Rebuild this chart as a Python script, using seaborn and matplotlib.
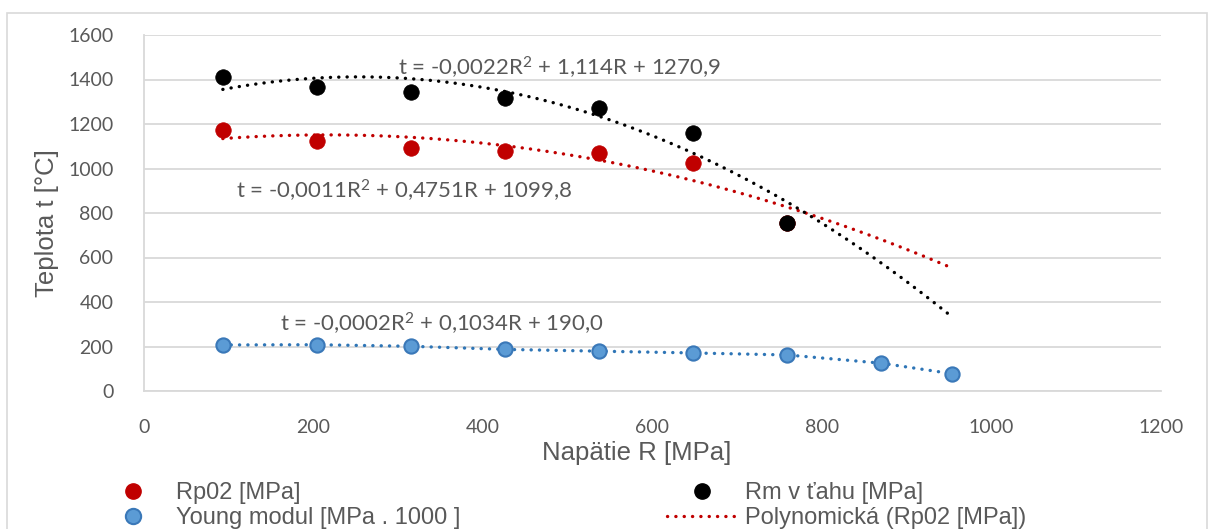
import numpy as np
import pandas as pd
import matplotlib
matplotlib.use("Agg")
import matplotlib.pyplot as plt
from matplotlib.lines import Line2D
from matplotlib.patches import Rectangle
import seaborn as sns

# Measured values
napatie_rp = [93, 204, 315, 426, 537, 648, 759]
rp02 = [1175, 1124, 1094, 1077, 1068, 1026, 757]

napatie_rm = [93, 204, 315, 426, 537, 648, 759]
rm_tah = [1409, 1365, 1343, 1317, 1274, 1160, 756]

napatie_e = [93, 204, 315, 426, 537, 648, 759, 870, 953]
young = [207, 208, 201, 187, 179, 171, 162, 125, 78]

# Quadratic trend coefficients (a, b, c) for t = aR^2 + bR + c
trend_rp02 = [-0.0011, 0.4751, 1099.8]
trend_rm = [-0.0022, 1.114, 1270.9]
trend_young = [-0.0002, 0.1034, 190.0]
trend_range = [93, 953]

eq_labels = [
    "t = -0,0022R$^{2}$ + 1,114R + 1270,9",
    "t = -0,0011R$^{2}$ + 0,4751R + 1099,8",
    "t = -0,0002R$^{2}$ + 0,1034R + 190,0",
]

x_ticks = [0, 200, 400, 600, 800, 1000, 1200]
y_ticks = [0, 200, 400, 600, 800, 1000, 1200, 1400, 1600]

RED = "#c00000"
BLACK = "#000000"
BLUE_FILL = "#5b9bd5"
BLUE_EDGE = "#3a78b8"
BLUE_LINE = "#2e75b6"
GRID = "#d9d9d9"
TXT = "#595959"

sns.set_theme(style="white")
plt.rcParams["font.family"] = ["Lato", "DejaVu Sans"]
plt.rcParams["mathtext.fontset"] = "custom"
plt.rcParams["mathtext.rm"] = "Lato"
plt.rcParams["mathtext.it"] = "Lato"
plt.rcParams["mathtext.bf"] = "Lato:bold"

W, H = 1216, 529
fig = plt.figure(figsize=(W / 100, H / 100), dpi=100)
ax = fig.add_axes([144 / W, 1 - 391 / H, (1161 - 144) / W, (391 - 35) / H])

# outer chart frame
fig.patches.append(Rectangle((7 / W, -0.2), (1207 - 7) / W, 1.2 - 13 / H,
                             transform=fig.transFigure, fill=False,
                             edgecolor=GRID, linewidth=1.2, zorder=0))

LW = 2.4
dot = (0, (0.05, 2.45))

def trend_frame(coef):
    xs = np.linspace(trend_range[0], trend_range[1], 300)
    return pd.DataFrame({"x": xs, "y": np.polyval(coef, xs)})

# trend curves
sns.lineplot(data=trend_frame(trend_rp02), x="x", y="y", ax=ax, color=RED,
             linewidth=LW, linestyle=dot, dash_capstyle="round", zorder=3)
sns.lineplot(data=trend_frame(trend_rm), x="x", y="y", ax=ax, color=BLACK,
             linewidth=LW, linestyle=dot, dash_capstyle="round", zorder=3)

# Young modulus series joined by a dotted line
df_e = pd.DataFrame({"x": napatie_e, "y": young})
sns.lineplot(data=df_e, x="x", y="y", ax=ax, color=BLUE_LINE, linewidth=LW,
             linestyle=dot, dash_capstyle="round", zorder=3)

df_rp = pd.DataFrame({"x": napatie_rp, "y": rp02})
df_rm = pd.DataFrame({"x": napatie_rm, "y": rm_tah})
sns.scatterplot(data=df_rp, x="x", y="y", ax=ax, color=RED, s=125,
                edgecolor=RED, linewidth=0.5, zorder=4)
sns.scatterplot(data=df_rm, x="x", y="y", ax=ax, color=BLACK, s=125,
                edgecolor=BLACK, linewidth=0.5, zorder=5)
sns.scatterplot(data=df_e, x="x", y="y", ax=ax, color=BLUE_FILL, s=105,
                edgecolor=BLUE_EDGE, linewidth=1.5, zorder=5)

ax.set_xlim(0, 1200)
ax.set_ylim(0, 1600)
ax.set_xticks(x_ticks)
ax.set_yticks(y_ticks)
ax.tick_params(axis="both", length=0, labelsize=14, labelcolor=TXT)
ax.tick_params(axis="y", pad=22)
ax.tick_params(axis="x", pad=20)
ax.yaxis.grid(True, color=GRID, linewidth=1.3)
ax.xaxis.grid(False)
ax.set_axisbelow(True)
for side in ["top", "right"]:
    ax.spines[side].set_visible(False)
for side in ["left", "bottom"]:
    ax.spines[side].set_color(GRID)
    ax.spines[side].set_linewidth(1.3)
ax.set_xlabel("")
ax.set_ylabel("")

label_font = ["Liberation Sans", "DejaVu Sans"]
fig.text(637 / W, 1 - 453 / H, "Napätie R [MPa]", ha="center", va="center",
         fontsize=18.5, color=TXT, family=label_font)
fig.text(47 / W, 1 - 223 / H, "Teplota t [°C]", ha="center", va="center",
         rotation=90, fontsize=18.5, color=TXT, family=label_font)

# equation labels
ax.text(300, 1451, eq_labels[0], ha="left", va="center", fontsize=16, color=TXT)
ax.text(108, 901, eq_labels[1], ha="left", va="center", fontsize=16, color=TXT)
ax.text(161, 302, eq_labels[2], ha="left", va="center", fontsize=16, color=TXT)

# legend
handles = [
    Line2D([], [], linestyle="none", marker="o", markersize=11,
           markerfacecolor=RED, markeredgecolor=RED),
    Line2D([], [], linestyle="none", marker="o", markersize=11,
           markerfacecolor=BLUE_FILL, markeredgecolor=BLUE_EDGE, markeredgewidth=1.5),
    Line2D([], [], linestyle="none", marker="o", markersize=11,
           markerfacecolor=BLACK, markeredgecolor=BLACK),
    Line2D([], [], color=RED, linewidth=LW, linestyle=dot, dash_capstyle="round"),
]
labels = ["Rp02 [MPa]", "Young modul [MPa . 1000 ]", "Rm v ťahu [MPa]",
          "Polynomická (Rp02 [MPa])"]
fig.legend(handles, labels, ncol=2, loc="upper left",
           bbox_to_anchor=(98 / W, 1 - 482 / H), frameon=False,
           prop={"family": label_font, "size": 17}, labelcolor=TXT,
           handlelength=3.0, handletextpad=0.3, columnspacing=8.75,
           labelspacing=0.12, borderaxespad=0, borderpad=0)

fig.savefig("out.png", dpi=100)
